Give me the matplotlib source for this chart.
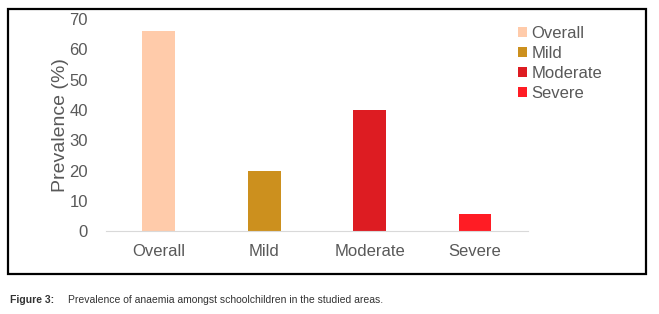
import matplotlib
matplotlib.use("Agg")
import matplotlib.pyplot as plt
from matplotlib.patches import Rectangle, Patch

categories = ["Overall", "Mild", "Moderate", "Severe"]
values = [66, 20, 40, 5.7]
colors = ["#FFCBAA", "#CC901E", "#DD1C22", "#FF1C24"]
yticks = [0, 10, 20, 30, 40, 50, 60, 70]

plt.rcParams['font.family'] = ['Liberation Sans', 'DejaVu Sans']
fig = plt.figure(figsize=(6.59, 3.14), dpi=100)
ax = fig.add_axes([0.161, 0.264, 0.64, 0.675])
x = range(len(categories))
ax.bar(x, values, width=0.31, color=colors)
ax.set_xlim(-0.5, 3.5)
ax.set_ylim(0, 70)
ax.set_yticks(yticks)
ax.set_xticks(list(x))
ax.set_xticklabels(categories)
for s in ["top", "right", "left"]:
    ax.spines[s].set_visible(False)
ax.spines["bottom"].set_color("#D9D9D9")
ax.tick_params(axis="both", length=0, labelsize=12, colors="#595959")
ax.tick_params(axis="x", pad=9)
ax.tick_params(axis="y", pad=13)
ax.set_ylabel("Prevalence (%)", fontsize=14, color="#595959", labelpad=0.5)

handles = [Patch(facecolor=c, label=l) for c, l in zip(colors, categories)]
leg = fig.legend(handles=handles, loc="upper left", bbox_to_anchor=(0.776, 0.94),
                 frameon=False, fontsize=12, handlelength=0.55, handleheight=0.55,
                 handletextpad=0.25, labelspacing=0.3, borderaxespad=0)
for t in leg.get_texts():
    t.set_color("#595959")

fig.patches.append(Rectangle((8/659, 1-274/314), (646-8)/659, (274-9)/314,
                             transform=fig.transFigure, fill=False,
                             edgecolor="black", linewidth=1.6))

fig.text(10/659, 1-300/314, "Figure 3:", fontsize=7.5, fontweight="bold",
         color="#333333", va="center")
fig.text(68/659, 1-300/314, "Prevalence of anaemia amongst schoolchildren in the studied areas.",
         fontsize=7.5, color="#333333", va="center")

fig.savefig("out.png", dpi=100)
